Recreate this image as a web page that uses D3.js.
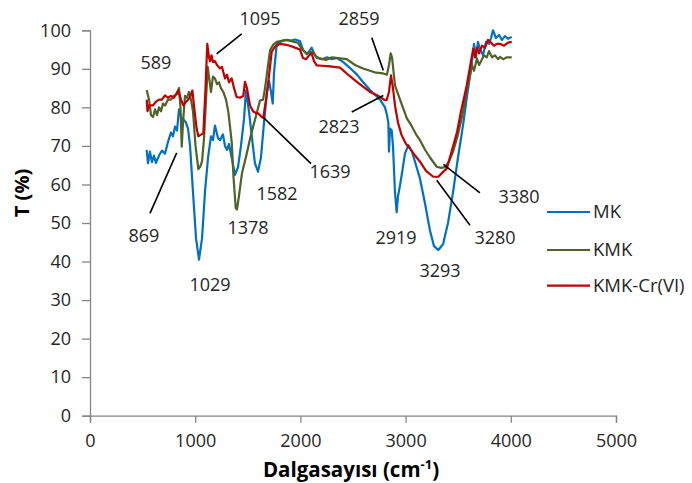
<!DOCTYPE html>
<html>
<head>
<meta charset="utf-8">
<script src="https://cdn.jsdelivr.net/npm/d3@7"></script>
<style>
  html, body { margin: 0; padding: 0; background: #fff; }
  svg { display: block; font-family: "Open Sans", "DejaVu Sans", sans-serif; }
</style>
</head>
<body>
<svg id="chart" width="692" height="483"></svg>
<script>
// FTIR spectra: wavenumber (cm-1) and transmittance (%)
const mkWavenumber = [539,551,570,589,608,627,656,684,713,741,770,789,808,827,846,865,884,913,932,951,979,1008,1036,1065,1093,1122,1150,1169,1188,1217,1236,1264,1283,1302,1321,1350,1378,1407,1435,1464,1483,1511,1540,1568,1597,1625,1654,1683,1702,1721,1737,1749,1775,1806,1854,1901,1949,1996,2025,2060,2082,2107,2129,2158,2205,2253,2300,2348,2405,2472,2538,2595,2662,2719,2757,2804,2823,2836,2842,2852,2868,2880,2899,2915,2928,2947,2966,2994,3026,3061,3099,3137,3185,3232,3270,3311,3356,3403,3451,3498,3546,3584,3628,3650,3669,3688,3707,3736,3764,3793,3812,3831,3859,3888,3916,3945,3974,4009];
const mkTransmittance = [69,65.5,68.5,65.8,67.5,65.6,67.5,68.8,68,71,73.5,72.5,75,74,79.5,77.5,77,76,74.5,70,58,46,40.5,46,58,67,72.5,71.5,75.3,72,71.5,73,70,69,70.5,66.5,62.5,64.5,70,77,84.4,79,72,65.5,63.3,67,76,84,86.8,84,81,89,96.5,97,97.5,97.3,97.6,97.2,95,93.8,94.5,95.5,94,92.8,92.5,93,92.5,92.8,91.8,90.2,88.5,86.6,84.5,83,82,80,78,76,68.5,74.5,74,70,58,52.8,57,59.8,63,68,70.2,68.5,65,61.5,55,48,44,43,44.5,50,58,67,75.4,83,91,96.5,93,97,95,93.5,97,96.5,98,100,98,98.8,97.5,98.5,97.8,98.3];

const kmkWavenumber = [539,561,580,599,618,637,656,675,694,713,741,770,798,827,846,860,872,884,903,922,941,960,979,1003,1030,1046,1065,1084,1103,1119,1131,1150,1169,1188,1207,1226,1245,1267,1293,1315,1331,1347,1364,1385,1397,1416,1445,1490,1531,1585,1616,1645,1664,1683,1711,1740,1775,1825,1882,1939,1977,2015,2060,2091,2120,2148,2186,2243,2300,2357,2440,2519,2595,2662,2719,2786,2823,2842,2858,2871,2899,2947,3011,3061,3099,3137,3185,3232,3296,3337,3375,3413,3451,3498,3546,3584,3612,3631,3650,3678,3698,3717,3745,3771,3793,3821,3850,3878,3897,3926,3964,4009];
const kmkTransmittance = [84.5,82,78,77.5,79.5,78,80,79,81,80.5,82,82,83,83.5,85,80,69.8,76,83,82.5,84,82,79,70,64,64.5,66,72,82,90.5,88,84,88,87.5,86,86.5,85,84,82,78.8,75,71,62,53.9,53.5,57,63,68,73,78.5,81.8,82,85,89,94.8,96.2,97,97.3,97.5,97,96.8,95,94,94.2,94.5,93.2,92.7,92.3,93,92.8,92.5,91,90.1,89.5,89,88.8,88.5,91,94,93,85.7,82,77.2,75,73,71.5,69,67,64.6,64.3,64.5,66,68.5,73,78.8,85,88.3,91,89.5,92.7,91,92,93.5,93,94.6,93,93.5,92.5,93.1,92.5,93,93];

const crWavenumber = [539,547,561,599,627,656,684,713,741,770,798,839,865,887,913,932,951,973,994,1014,1030,1046,1077,1098,1115,1131,1141,1155,1169,1188,1207,1236,1255,1283,1302,1321,1347,1369,1394,1426,1457,1473,1492,1521,1550,1578,1597,1632,1647,1673,1695,1727,1759,1806,1854,1901,1949,1996,2025,2053,2082,2107,2129,2155,2205,2262,2319,2377,2440,2519,2598,2662,2719,2757,2795,2820,2842,2861,2880,2899,2928,2962,3004,3042,3090,3137,3194,3263,3311,3346,3391,3432,3489,3527,3581,3612,3643,3660,3679,3698,3726,3755,3783,3812,3840,3869,3897,3935,3974,4009];
const crTransmittance = [82,79,80.5,80.5,81.5,82,82,83.1,82.5,83,82.5,84.4,82,80.5,81.5,82,82.7,84.4,79,74.5,72.5,72.8,73.2,85,96.5,93,92,93.5,91.8,92,91,90.1,90.5,87.5,88.5,86.5,87.5,85,82.7,82.5,83,86.6,85,80.5,79,78.5,78.5,77.5,77.3,82,86.6,94.4,95.8,96.5,96.3,96,95.5,95,92.8,92.5,93.5,94,92,90.9,90.8,90.7,90.5,90.3,88.8,87,85.3,84,83.3,82.7,82,81.9,84,88.3,85,80.5,76,72.8,70.5,69.3,67.5,65.9,63.5,62,62,63,64.1,68,73.6,79,85.7,90.5,95.2,93,95.5,94,96,95.5,97.5,96.8,96,96.5,96.5,96,96.8,97];

const seriesNames = ["MK", "KMK", "KMK-Cr(VI)"];
const seriesColors = ["#0070C0", "#4F6228", "#C00000"];

const xTicks = [0, 1000, 2000, 3000, 4000, 5000];
const yTicks = [0, 10, 20, 30, 40, 50, 60, 70, 80, 90, 100];

// peak labels and where they sit (label anchor, optional leader line) in data units
const peakLabels = ["589", "1095", "869", "1378", "1029", "1582", "1639", "2859", "2823", "2919", "3293", "3280", "3380"];
const labelAt = [[627, 91.7], [1616, 103.1], [513, 46.6], [1502, 48.7], [1141, 34.1], [1778, 57.7], [2281, 63.2], [2557, 102.9], [2367, 75.1], [2909, 46.3], [3327, 37.5], [3850, 46.1], [4078, 56.7]];
const leaderLines = [null, [[1442, 99.1], [1204, 93.9]], [[570, 52.5], [824, 68.2]], null, null, null, [[1647, 77.4], [2101, 65.4]], [[2678, 98.1], [2788, 89.6]], [[2488, 78.8], [2788, 83.1]], null, null, [[3296, 61.1], [3612, 49.4]], [[3359, 65.2], [3707, 57.8]]];

const svg = d3.select("#chart");
const margin = { left: 90, top: 30.3, right: 76, bottom: 67.3 };
const W = 692, H = 483;

const x = d3.scaleLinear().domain([0, 5000]).range([margin.left, W - margin.right]);
const y = d3.scaleLinear().domain([0, 100]).range([H - margin.bottom, margin.top]);

const axisColor = "#868686";
const textColor = "#262626";

// axes
const gx = svg.append("g")
  .attr("transform", `translate(0,${y(0)})`)
  .call(d3.axisBottom(x).tickValues(xTicks).tickSize(7).tickPadding(12).tickFormat(d3.format("d")));
const gy = svg.append("g")
  .attr("transform", `translate(${x(0)},0)`)
  .call(d3.axisLeft(y).tickValues(yTicks).tickSize(8).tickPadding(11).tickFormat(d3.format("d")));

[gx, gy].forEach(g => {
  g.select(".domain").attr("stroke", axisColor).attr("stroke-width", 1.3);
  g.selectAll(".tick line").attr("stroke", axisColor).attr("stroke-width", 1.3);
  g.selectAll(".tick text")
    .attr("fill", textColor)
    .style("font-size", "18px")
    .style("font-family", "'Open Sans', sans-serif");
});

// spectra
const line = d3.line().x(d => x(d[0])).y(d => y(d[1]));
const seriesData = [
  d3.zip(mkWavenumber, mkTransmittance),
  d3.zip(kmkWavenumber, kmkTransmittance),
  d3.zip(crWavenumber, crTransmittance)
];
seriesData.forEach((data, i) => {
  svg.append("path")
    .datum(data)
    .attr("fill", "none")
    .attr("stroke", seriesColors[i])
    .attr("stroke-width", 2.2)
    .attr("stroke-linejoin", "round")
    .attr("d", line);
});

// peak annotations
peakLabels.forEach((t, i) => {
  const ln = leaderLines[i];
  if (ln) {
    svg.append("line")
      .attr("x1", x(ln[0][0])).attr("y1", y(ln[0][1]))
      .attr("x2", x(ln[1][0])).attr("y2", y(ln[1][1]))
      .attr("stroke", "#000").attr("stroke-width", 1.6);
  }
  svg.append("text")
    .attr("x", x(labelAt[i][0]))
    .attr("y", y(labelAt[i][1]))
    .attr("dy", "0.35em")
    .attr("text-anchor", "middle")
    .attr("fill", textColor)
    .style("font-size", "18px")
    .text(t);
});

// legend
const legend = svg.append("g").attr("transform", "translate(547,212)");
seriesNames.forEach((name, i) => {
  const g = legend.append("g").attr("transform", `translate(0,${[0, 38, 73.7][i]})`);
  g.append("line").attr("x1", 0).attr("x2", 43).attr("y1", 0).attr("y2", 0)
    .attr("stroke", seriesColors[i]).attr("stroke-width", 2.2);
  g.append("text").attr("x", 46).attr("y", 0).attr("dy", "0.35em")
    .attr("fill", textColor).style("font-size", "18.5px").text(name);
});

// axis titles
svg.append("text")
  .attr("transform", `translate(22,${(y(0) + y(100)) / 2 - 30}) rotate(-90)`)
  .attr("text-anchor", "middle")
  .attr("dy", "0.35em")
  .attr("fill", "#000")
  .style("font-size", "20px")
  .style("font-weight", "bold")
  .text("T (%)");

const xt = svg.append("text")
  .attr("x", 351)
  .attr("y", 477)
  .attr("text-anchor", "middle")
  .attr("fill", "#000")
  .style("font-size", "20.5px")
  .style("font-weight", "bold");
xt.append("tspan").text("Dalgasayısı (cm");
xt.append("tspan").attr("dy", -8).style("font-size", "13px").text("-1");
xt.append("tspan").attr("dy", 8).text(")");
</script>
</body>
</html>
